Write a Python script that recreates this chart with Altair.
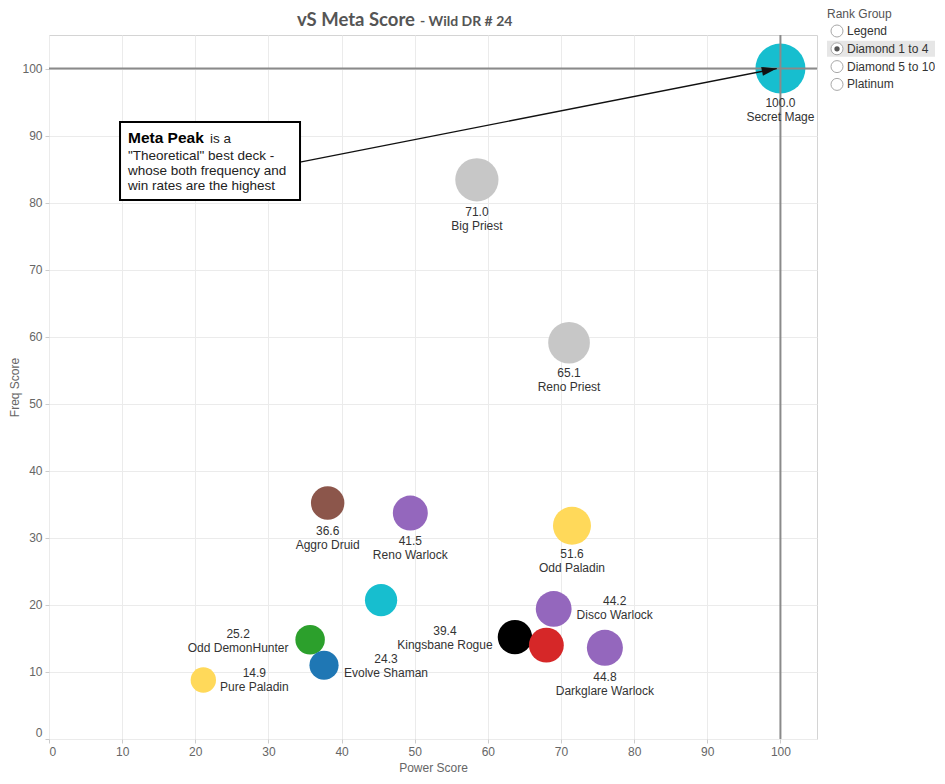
import math
import altair as alt
import pandas as pd

# ---------------- data ----------------
decks = ["Secret Mage", "Big Priest", "Reno Priest", "Aggro Druid", "Reno Warlock",
         "Odd Paladin", "Mage (no label)", "Disco Warlock", "Odd DemonHunter",
         "Kingsbane Rogue", "Warrior (no label)", "Darkglare Warlock", "Evolve Shaman",
         "Pure Paladin"]
classes = ["Mage", "Priest", "Priest", "Druid", "Warlock", "Paladin", "Mage", "Warlock",
           "DemonHunter", "Rogue", "Warrior", "Warlock", "Shaman", "Paladin"]
power_score = [100.0, 58.5, 71.1, 38.1, 49.4, 71.5, 45.4, 69.0, 35.7, 63.7, 68.0, 76.0, 37.6, 21.1]
freq_score = [100.0, 83.4, 59.1, 35.2, 33.7, 31.8, 20.7, 19.4, 14.8, 15.2, 14.0, 13.6, 11.0, 8.8]
meta_score = [100.0, 71.0, 65.1, 36.6, 41.5, 51.6, 33.0, 44.2, 25.2, 39.4, 41.0, 44.8, 24.3, 14.9]
show_label = [True, True, True, True, True, True, False, True, True, True, False, True, True, True]

class_names = ["Mage", "Priest", "Druid", "Warlock", "Paladin", "DemonHunter", "Rogue", "Warrior", "Shaman"]
class_colors = ["#17becf", "#c7c7c7", "#8c564b", "#9467bd", "#ffd95a", "#2ca02c", "#000000", "#d62728", "#1f77b4"]

x_ticks = [0, 10, 20, 30, 40, 50, 60, 70, 80, 90, 100]
y_ticks = [0, 10, 20, 30, 40, 50, 60, 70, 80, 90, 100]

rank_groups = ["Legend", "Diamond 1 to 4", "Diamond 5 to 10", "Platinum"]
selected_group = "Diamond 1 to 4"

annotation_lines = ['"Theoretical" best deck -', "whose both frequency and", "win rates are the highest"]

# ---------------- layout (label offsets in px, annotation anchors in data units) ----------------
label_dx = [0, 0, 0, 0, 0, 0, None, 61, -72, -70, None, 0, 62, 51]
label_dy = [34, 32, 30.5, 28, 28, 28.5, None, -7.5, -6, -6.5, None, 29, -6, -7]

W, H = 768, 704
X_DOMAIN = [0, 105]
Y_DOMAIN = [0, 105]
FONT = "Liberation Sans"

box = {"x1": 9.71, "x2": 34.32, "y1": 92.02, "y2": 80.39}
text_x = 10.8
peak_y = 88.89
lines_y = 86.35
arrow = {"x": 34.32, "y": 86.05, "x2": 99.5, "y2": 100.0}

df = pd.DataFrame({
    "deck": decks, "cls": classes, "power": power_score, "freq": freq_score,
    "meta": meta_score, "show": show_label,
})
df["label"] = [f"{m:.1f}\n{d}" for m, d in zip(meta_score, decks)]

xs = alt.Scale(domain=X_DOMAIN, nice=False, zero=False)
ys = alt.Scale(domain=Y_DOMAIN, nice=False, zero=False)

axis_common = dict(
    grid=True, gridColor="#ebebeb", domain=False, tickColor="#cccccc", tickSize=4,
    labelColor="#666666", labelFont=FONT, labelFontSize=12, labelPadding=3, labelFlush=True,
    titleColor="#666666", titleFont=FONT, titleFontSize=12, titleFontWeight="normal",
)

points = alt.Chart(df).mark_circle(opacity=1).encode(
    x=alt.X("power:Q", scale=xs, axis=alt.Axis(values=x_ticks, title="Power Score", titlePadding=5, **axis_common)),
    y=alt.Y("freq:Q", scale=ys, axis=alt.Axis(values=y_ticks, title="Freq Score", titlePadding=0, **axis_common)),
    size=alt.Size("meta:Q", scale=alt.Scale(domain=[0, 100], range=[320, 2500]), legend=None),
    color=alt.Color("cls:N", scale=alt.Scale(domain=class_names, range=class_colors), legend=None),
    tooltip=["deck:N", "power:Q", "freq:Q", "meta:Q"],
)

ref_h = alt.Chart(pd.DataFrame({"v": [100]})).mark_rule(color="#8a8a8a", strokeWidth=2).encode(
    y=alt.Y("v:Q", scale=ys))
ref_v = alt.Chart(pd.DataFrame({"v": [100]})).mark_rule(color="#8a8a8a", strokeWidth=2).encode(
    x=alt.X("v:Q", scale=xs))

label_layers = []
for d, s, dx, dy in zip(decks, show_label, label_dx, label_dy):
    if not s:
        continue
    label_layers.append(
        alt.Chart(df).transform_filter(alt.datum.deck == d).mark_text(
            align="center", baseline="middle", dx=dx, dy=dy, lineBreak="\n", lineHeight=14,
            font=FONT, fontSize=12, color="#333333",
        ).encode(x=alt.X("power:Q", scale=xs), y=alt.Y("freq:Q", scale=ys), text="label:N")
    )

arrow_df = pd.DataFrame([arrow])
arrow_line = alt.Chart(arrow_df).mark_rule(color="#111111", strokeWidth=1.3).encode(
    x=alt.X("x:Q", scale=xs), y=alt.Y("y:Q", scale=ys), x2="x2:Q", y2="y2:Q")
px_x = W / (X_DOMAIN[1] - X_DOMAIN[0])
px_y = H / (Y_DOMAIN[1] - Y_DOMAIN[0])
ang = math.degrees(math.atan2(-(arrow["y2"] - arrow["y"]) * px_y, (arrow["x2"] - arrow["x"]) * px_x)) % 360
arrow_head = alt.Chart(arrow_df).mark_point(
    shape="M0,0 L-2,-0.6 L-2,0.6 Z", filled=True, color="#111111", opacity=1, size=225, angle=ang,
).encode(x=alt.X("x2:Q", scale=xs), y=alt.Y("y2:Q", scale=ys))

box_rect = alt.Chart(pd.DataFrame([box])).mark_rect(fill="white", stroke="#000000", strokeWidth=2).encode(
    x=alt.X("x1:Q", scale=xs), x2="x2:Q", y=alt.Y("y1:Q", scale=ys), y2="y2:Q")
peak_df = pd.DataFrame({"x": [text_x], "y": [peak_y], "t": ["Meta Peak"], "t2": ["is a"]})
peak_bold = alt.Chart(peak_df).mark_text(
    align="left", baseline="alphabetic", font=FONT, fontSize=15.5, fontWeight="bold", color="#000000",
).encode(x=alt.X("x:Q", scale=xs), y=alt.Y("y:Q", scale=ys), text="t:N")
peak_rest = alt.Chart(peak_df).mark_text(
    align="left", baseline="alphabetic", font=FONT, fontSize=13.5, color="#222222", dx=82,
).encode(x=alt.X("x:Q", scale=xs), y=alt.Y("y:Q", scale=ys), text="t2:N")
lines_df = pd.DataFrame({"x": [text_x], "y": [lines_y], "t": ["\n".join(annotation_lines)]})
box_lines = alt.Chart(lines_df).mark_text(
    align="left", baseline="alphabetic", font=FONT, fontSize=13.5, color="#222222",
    lineBreak="\n", lineHeight=15,
).encode(x=alt.X("x:Q", scale=xs), y=alt.Y("y:Q", scale=ys), text="t:N")

title_a = alt.Chart(pd.DataFrame({"t": ["vS Meta Score"]})).mark_text(
    align="right", baseline="alphabetic", font="Lato", fontSize=18.5, fontWeight="bold", color="#555555",
).encode(x=alt.value(366), y=alt.value(-9), text="t:N")
title_b = alt.Chart(pd.DataFrame({"t": ["- Wild DR # 24"]})).mark_text(
    align="left", baseline="alphabetic", font="Lato", fontSize=14, fontWeight="bold", color="#555555",
).encode(x=alt.value(371), y=alt.value(-9), text="t:N")

# ---------------- parameter-style control "Rank Group" ----------------
leg_df = pd.DataFrame({"group": rank_groups, "idx": list(range(len(rank_groups)))})
leg_df["sel"] = [g == selected_group for g in rank_groups]
leg_base = alt.Chart(leg_df).transform_calculate(py="datum.idx * 17.8 - 4", py1="datum.idx * 17.8 - 12",
                                                 py2="datum.idx * 17.8 + 4")
leg_title = alt.Chart(pd.DataFrame({"t": ["Rank Group"]})).mark_text(
    align="left", baseline="middle", font=FONT, fontSize=12, color="#555555",
).encode(x=alt.value(778), y=alt.value(-21), text="t:N")
leg_hi = leg_base.transform_filter(alt.datum.sel).mark_rect(fill="#e6e6e6").encode(
    x=alt.value(778), x2=alt.value(890),
    y=alt.Y("py1:Q", scale=None), y2="py2:Q")
leg_radio = leg_base.mark_point(shape="circle", size=144, fill="white", fillOpacity=1, opacity=1,
                                stroke="#a8a8a8", strokeWidth=1).encode(
    x=alt.value(788), y=alt.Y("py:Q", scale=None))
leg_dot = leg_base.transform_filter(alt.datum.sel).mark_point(
    shape="circle", size=28, filled=True, color="#555555", opacity=1).encode(
    x=alt.value(788), y=alt.Y("py:Q", scale=None))
leg_text = leg_base.mark_text(align="left", baseline="middle", font=FONT, fontSize=12, color="#333333").encode(
    x=alt.value(798), y=alt.Y("py:Q", scale=None), text="group:N")

chart = alt.layer(
    points, ref_h, ref_v, *label_layers, arrow_line, arrow_head, box_rect, peak_bold, peak_rest, box_lines,
    title_a, title_b, leg_title, leg_hi, leg_radio, leg_dot, leg_text,
).properties(
    width=W, height=H,
    padding={"left": 41, "top": 27, "right": 118, "bottom": 36},
    autosize=alt.AutoSizeParams(type="none"),
).configure_view(stroke="#d4d4d4", strokeWidth=1)

chart.save("out.html", embed_options={"renderer": "svg", "actions": False})
